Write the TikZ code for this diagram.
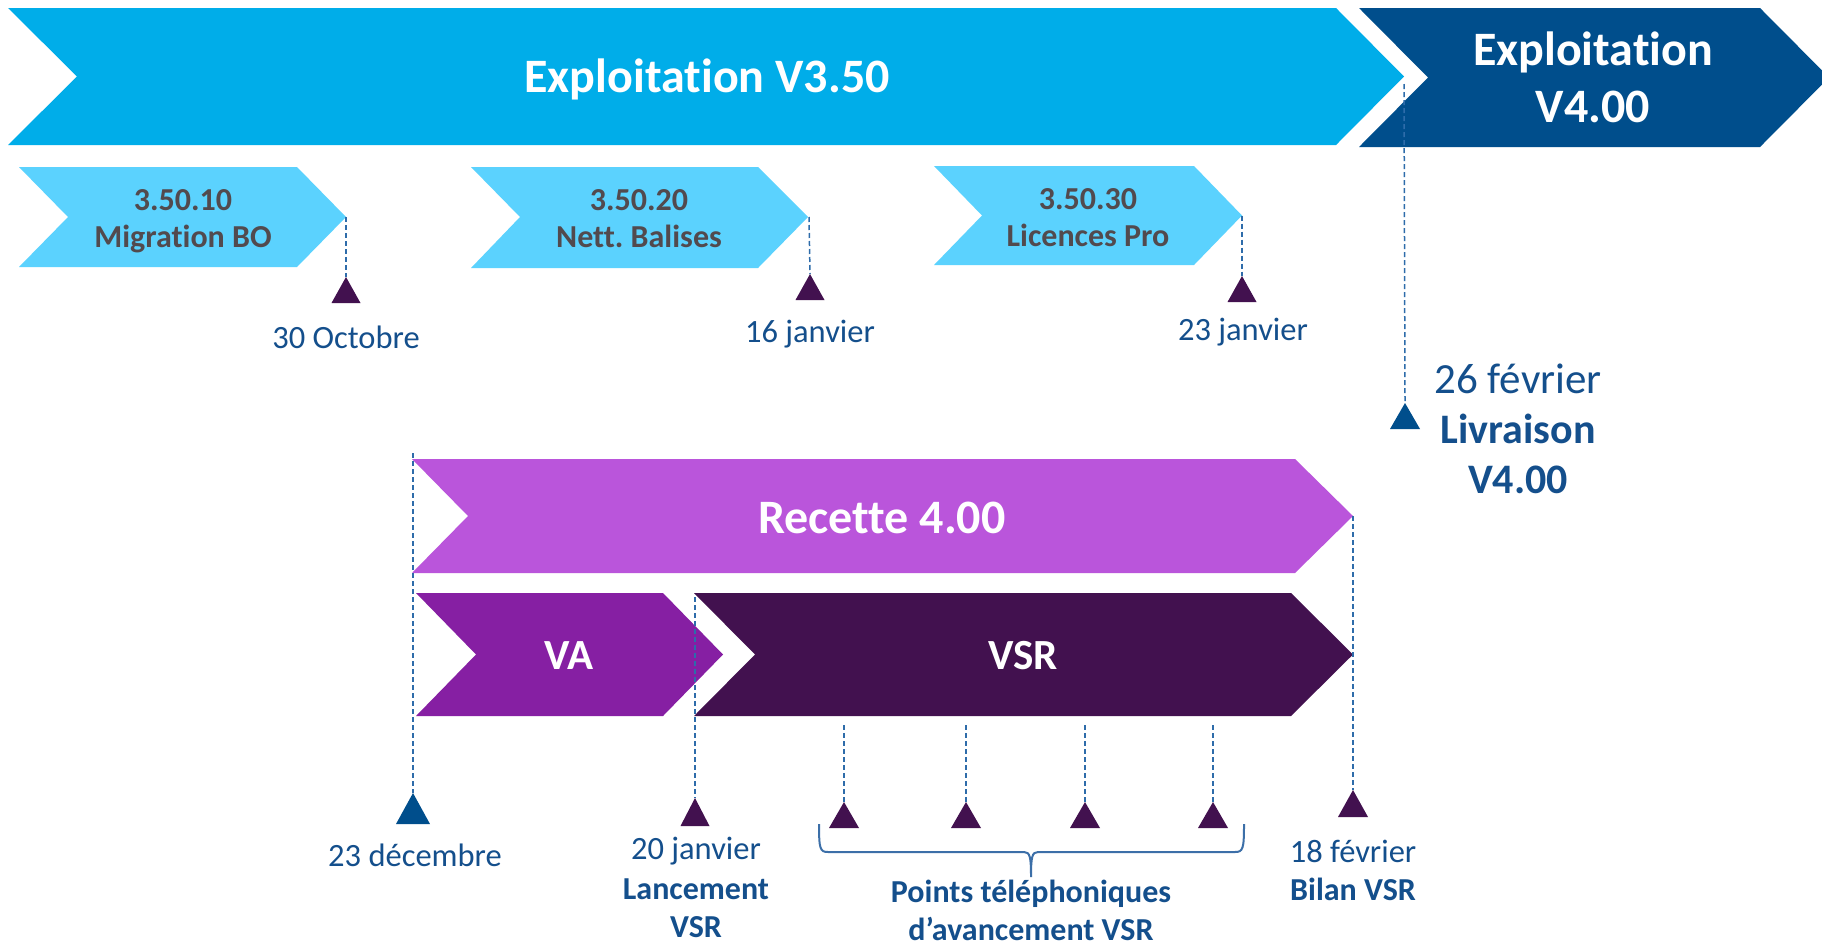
\documentclass[tikz,border=0pt]{standalone}
\usepackage{fontspec}
\setmainfont{Carlito}[Ligatures=NoCommon]
\frenchspacing
\definecolor{lblue}{RGB}{0,173,233}
\definecolor{dblue}{RGB}{0,78,140}
\definecolor{cyanc}{RGB}{91,210,254}
\definecolor{grayt}{RGB}{82,74,78}
\definecolor{recc}{RGB}{186,85,219}
\definecolor{vac}{RGB}{134,31,163}
\definecolor{vsrc}{RGB}{66,17,79}
\definecolor{datec}{RGB}{20,79,140}
\definecolor{dashc}{RGB}{46,108,170}
\definecolor{bracec}{RGB}{60,111,168}
\tikzset{
  bigtxt/.style={text=white, font=\fontsize{48}{57}\selectfont\bfseries, inner sep=0pt, align=center, anchor=base},
  midtxt/.style={text=white, font=\fontsize{48}{54}\selectfont\bfseries, inner sep=0pt, anchor=base},
  vatxt/.style={text=white, font=\fontsize{43}{50}\selectfont\bfseries, inner sep=0pt, anchor=base},
  chevtxt/.style={text=grayt, font=\fontsize{32}{37}\selectfont\bfseries, inner sep=0pt, align=center, anchor=base},
  datetxt/.style={text=datec, font=\fontsize{32.5}{38}\selectfont, inner sep=0pt, align=center, anchor=base},
  dashline/.style={draw=dashc, line width=1.5pt, dash pattern=on 5pt off 3pt},
  tripurple/.style={fill=vsrc},
  triblue/.style={fill=dblue},
}
\begin{document}
\begin{tikzpicture}[x=1pt,y=-1pt]
\useasboundingbox (0,0) rectangle (1822,945);
\fill[white] (0,0) rectangle (1822,945);

% top chevrons
\fill[lblue] (8,8) -- (1336,8) -- (1404,76.5) -- (1336,145) -- (8,145) -- (77,76.5) -- cycle;
\coordinate (tipA) at (1404,84);
\node[bigtxt] (expA) at (707,92) {Exploitation V3.50};
\fill[dblue] (1359,8) -- (1760,8) -- (1829,77.5) -- (1760,147) -- (1359,147) -- (1428,77.5) -- cycle;
\node[bigtxt] (expB) at (1593,122) {Exploitation\\V4.00};

% small chevrons
\fill[cyanc] (19,167) -- (297,167) -- (346,217) -- (297,267) -- (19,267) -- (68,217) -- cycle;
\coordinate (tip1) at (346,217);
\node[chevtxt] (c1) at (183,247) {3.50.10\\Migration BO};
\fill[cyanc] (471,167) -- (758,167) -- (808,217) -- (758,268) -- (471,268) -- (520,217) -- cycle;
\coordinate (tip2) at (809,217);
\node[chevtxt] (c2) at (639,247) {3.50.20\\Nett. Balises};
\fill[cyanc] (934,166) -- (1194,166) -- (1242,215.5) -- (1194,265) -- (934,265) -- (982,215.5) -- cycle;
\coordinate (tip3) at (1242,215.5);
\node[chevtxt] (c3) at (1088,246) {3.50.30\\Licences Pro};

% top milestones
\coordinate (m1) at (346,277);
\fill[tripurple] (m1) -- ++(-14.5,26) -- ++(29,0) -- cycle;
\coordinate (m2) at (810,274);
\fill[tripurple] (m2) -- ++(-14.5,26) -- ++(29,0) -- cycle;
\coordinate (m3) at (1242,276);
\fill[tripurple] (m3) -- ++(-14.5,26) -- ++(29,0) -- cycle;
\draw[dashline] (tip1) -- (m1);
\draw[dashline] (tip2) -- (m2);
\draw[dashline] (tip3) -- (m3);
\node[datetxt] (d1) at (346,348) {30 Octobre};
\node[datetxt] (d2) at (810,342) {16 janvier};
\node[datetxt] (d3) at (1243,340) {23 janvier};

% V4.00 milestone
\coordinate (m4) at (1405,403);
\fill[triblue] (m4) -- ++(-15,26) -- ++(30,0) -- cycle;
\draw[dashline] (tipA) -- (m4);
\node[text=datec, inner sep=0pt, align=center, anchor=base, font=\fontsize{42}{50}\selectfont] (d4) at (1518,493)
  {{\fontsize{43}{50}\selectfont 26 février}\\{\bfseries Livraison}\\{\bfseries V4.00}};

% Recette
\fill[recc] (412,459) -- (1295,459) -- (1353,516) -- (1295,573) -- (412,573) -- (468,516) -- cycle;
\node[midtxt] (rec) at (882,533) {Recette 4.00};
\fill[vac] (416,593) -- (663,593) -- (723,654.5) -- (663,716) -- (416,716) -- (476,654.5) -- cycle;
\node[vatxt] (va) at (569,669) {VA};
\fill[vsrc] (694,593) -- (1291,593) -- (1353,654.5) -- (1291,716) -- (694,716) -- (755,654.5) -- cycle;
\node[vatxt] (vsr) at (1023,669) {VSR};

% bottom milestones
\coordinate (s0) at (413,453);
\coordinate (b0) at (413,793);
\fill[triblue] (b0) -- ++(-17,31) -- ++(34,0) -- cycle;
\draw[dashline] (s0) -- (b0);

\coordinate (s1) at (695,597);
\coordinate (b1) at (695,798);
\fill[tripurple] (b1) -- ++(-14.5,28) -- ++(29,0) -- cycle;
\draw[dashline] (s1) -- (b1);

\foreach \i/\x in {2/844,3/966,4/1085,5/1213}{
  \coordinate (s\i) at (\x,725);
  \coordinate (b\i) at (\x,802);
  \fill[tripurple] (b\i) -- ++(-15,26) -- ++(30,0) -- cycle;
  \draw[dashline] (s\i) -- (b\i);
}

\coordinate (s6) at (1353,516);
\coordinate (b6) at (1353,790);
\fill[tripurple] (b6) -- ++(-15,27) -- ++(30,0) -- cycle;
\draw[dashline] (s6) -- (b6);

% brace
\draw[bracec, line width=2pt] (819,824) .. controls (819,849) and (820,852) .. (828,852) -- (1024,852)
  .. controls (1030,852) and (1031,857) .. (1031,877) .. controls (1031,857) and (1032,852) .. (1038,852)
  -- (1235,852) .. controls (1243,852) and (1244,849) .. (1244,824);

% bottom labels
\node[datetxt] (e0) at (415,866) {23 décembre};
\node[datetxt] (e1) at (696,937) {20 janvier\\[2pt]{\bfseries\fontsize{32}{37}\selectfont Lancement}\\{\bfseries\fontsize{32}{37}\selectfont VSR}};
\node[datetxt, font=\fontsize{32}{38}\selectfont\bfseries] (e2) at (1031,940) {Points téléphoniques\\d’avancement VSR};
\node[datetxt] (e3) at (1353,900) {18 février\\{\bfseries\fontsize{32}{37}\selectfont Bilan VSR}};
\end{tikzpicture}
\end{document}
